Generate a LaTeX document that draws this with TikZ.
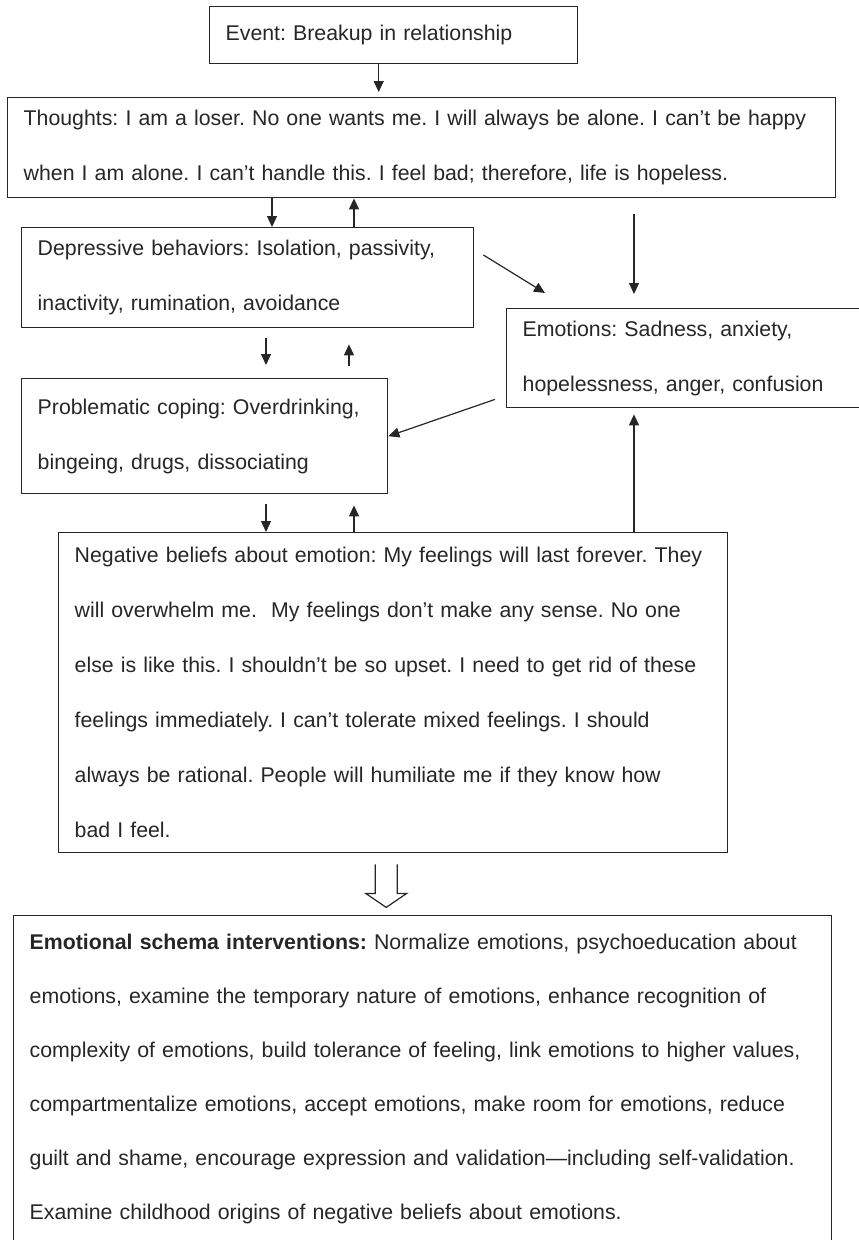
\documentclass[tikz,border=0pt]{standalone}
\usepackage{fontspec}
\setmainfont{Liberation Sans}
\usetikzlibrary{arrows.meta}
\definecolor{schemaink}{HTML}{262626}

\begin{document}
\begin{tikzpicture}[x=1pt, y=-1pt,
  box/.style={draw=schemaink, line width=1.4pt, anchor=north west, inner xsep=16pt, inner ysep=0pt,
    align=left, text=schemaink, font=\fontsize{21.3}{55}\selectfont,
    execute at begin node={\frenchspacing\rightskip=0pt plus 2em minus 60pt}},
  arr/.style={draw=schemaink, line width=1.2pt, -{Triangle[length=11pt,width=10pt]}}]
\useasboundingbox (0,0) rectangle (859,1240);

\node[box, minimum width=368pt, minimum height=57pt, text width=336pt] (event) at (209,6)
  {Event: Breakup in relationship};
\node[box, minimum width=828pt, minimum height=100pt, text width=796pt] (thoughts) at (7,97)
  {Thoughts: I am a loser. No one wants me. I will always be alone. I can’t be happy\\
   when I am alone. I can’t handle this. I feel bad; therefore, life is hopeless.};
\node[box, minimum width=452pt, minimum height=100pt, text width=420pt] (dep) at (21,227)
  {Depressive behaviors: Isolation, passivity,\\
   inactivity, rumination, avoidance};
\node[box, minimum width=362pt, minimum height=99pt, text width=330pt] (emo) at (506,308)
  {Emotions: Sadness, anxiety,\\
   hopelessness, anger, confusion};
\node[box, minimum width=366pt, minimum height=115pt, text width=334pt] (prob) at (21,378)
  {Problematic coping: Overdrinking,\\
   bingeing, drugs, dissociating};
\node[box, minimum width=669pt, minimum height=320pt, text width=637pt] (neg) at (58,532)
  {Negative beliefs about emotion: My feelings will last forever. They\\
   will overwhelm me.~ My feelings don’t make any sense. No one\\
   else is like this. I shouldn’t be so upset. I need to get rid of these\\
   feelings immediately. I can’t tolerate mixed feelings. I should\\
   always be rational. People will humiliate me if they know how\\
   bad I feel.};
\node[box, minimum width=818pt, minimum height=327pt, text width=786pt,
      font=\fontsize{21.3}{54}\selectfont] (schema) at (13,915)
  {\textbf{Emotional schema interventions:} Normalize emotions, psychoeducation about\\
   emotions, examine the temporary nature of emotions, enhance recognition of\\
   complexity of emotions, build tolerance of feeling, link emotions to higher values,\\
   compartmentalize emotions, accept emotions, make room for emotions, reduce\\
   guilt and shame, encourage expression and validation—including self-validation.\\
   Examine childhood origins of negative beliefs about emotions.};

\draw[arr, shorten >=5pt] ([xshift=-15pt]event.south) -- ([xshift=-15pt]event.south |- thoughts.north);
\draw[arr] ([xshift=251pt]dep.north west |- thoughts.south) -- ([xshift=251pt]dep.north west);
\draw[arr] ([xshift=333pt]dep.north west) -- ([xshift=333pt]dep.north west |- thoughts.south);
\draw[arr, shorten <=16pt, shorten >=14pt] ([xshift=128pt]emo.north west |- thoughts.south) -- ([xshift=128pt]emo.north west);
\draw[arr] ([shift={(9,28)}]dep.north east) -- ([shift={(39,-15)}]emo.north west);
\draw[arr] ([shift={(-11,-9)}]emo.south west) -- (prob.east);
\draw[arr, shorten <=10pt, shorten >=13pt] ([xshift=245pt]prob.north west |- dep.south) -- ([xshift=245pt]prob.north west);
\draw[arr, shorten <=12pt, shorten >=16pt] ([xshift=328pt]prob.north west) -- ([xshift=328pt]prob.north west |- dep.south);
\draw[arr, shorten <=10pt] ([xshift=245pt]prob.south west) -- ([xshift=245pt]prob.south west |- neg.north);
\draw[arr, shorten >=11pt] ([xshift=333pt]prob.south west |- neg.north) -- ([xshift=333pt]prob.south west);
\draw[arr, shorten >=6pt] ([xshift=128pt]emo.south west |- neg.north) -- ([xshift=128pt]emo.south west);

\coordinate (hollow) at ([shift={(-7,11)}]neg.south);
\draw[draw=schemaink, line width=1.2pt] (hollow) ++(-11,0) -- ++(0,29) -- ++(-9.5,0) -- ++(20.5,14)
  -- ++(20.5,-14) -- ++(-9.5,0) -- ++(0,-29);
\end{tikzpicture}
\end{document}
